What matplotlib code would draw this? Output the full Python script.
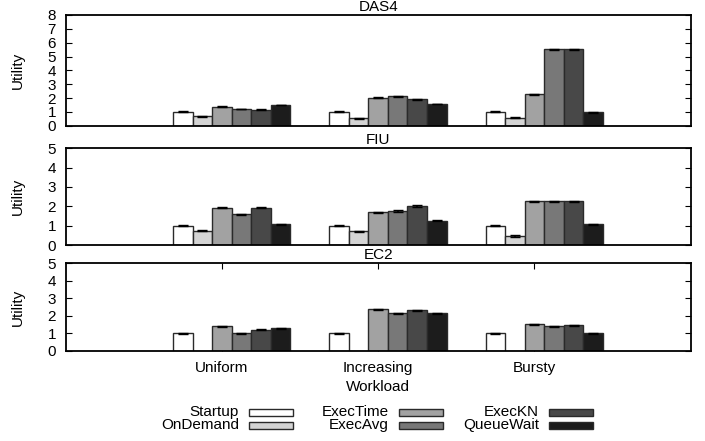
import numpy as np
import matplotlib
matplotlib.use('Agg')
import matplotlib.pyplot as plt
from matplotlib.patches import Rectangle

plt.rcParams['font.family'] = ['Liberation Sans', 'DejaVu Sans']
plt.rcParams['font.size'] = 11

workloads = ['Uniform', 'Increasing', 'Bursty']
policies = ['Startup', 'OnDemand', 'ExecTime', 'ExecAvg', 'ExecKN', 'QueueWait']
colors = ['#ffffff', '#d4d4d4', '#a2a2a2', '#787878', '#484848', '#1c1c1c']

# utility per policy, one value per workload
das4 = [
    [1.0, 1.0, 1.0],
    [0.67, 0.53, 0.58],
    [1.37, 2.02, 2.27],
    [1.20, 2.12, 5.52],
    [1.16, 1.90, 5.52],
    [1.49, 1.57, 0.96],
]
fiu = [
    [1.0, 1.0, 1.0],
    [0.74, 0.71, 0.47],
    [1.93, 1.69, 2.26],
    [1.59, 1.76, 2.26],
    [1.93, 2.02, 2.26],
    [1.07, 1.26, 1.07],
]
ec2 = [
    [1.0, 1.0, 1.0],
    [0.0, 0.0, 0.0],
    [1.42, 2.39, 1.52],
    [1.0, 2.16, 1.42],
    [1.21, 2.33, 1.46],
    [1.29, 2.14, 1.02],
]

panels = [('DAS4', das4, 8), ('FIU', fiu, 5), ('EC2', ec2, 5)]
positions = [
    [0.0932, 0.715, 0.8865, 0.251],
    [0.0932, 0.4444, 0.8865, 0.2193],
    [0.0932, 0.2041, 0.8865, 0.1989],
]

W, H = 705, 441
fig = plt.figure(figsize=(W / 100, H / 100), dpi=100)
x = np.arange(1, len(workloads) + 1)
w = 0.125

for k, (name, data, ymax) in enumerate(panels):
    ax = fig.add_axes(positions[k])
    for i, vals in enumerate(data):
        xs = x + (i - 2) * w
        ax.bar(xs, vals, width=w, color=colors[i], edgecolor='#2a2a2a',
               linewidth=1.0, zorder=2)
        shown = [v > 0 for v in vals]
        ax.errorbar(xs[shown], np.array(vals)[shown], yerr=0.03, fmt='none',
                    ecolor='black', elinewidth=1.2, capsize=3.5, zorder=3)
    ax.set_xlim(0, 4)
    ax.set_ylim(0, ymax)
    ax.set_yticks(range(0, ymax + 1))
    ax.tick_params(axis='y', direction='in', left=True, right=True, length=4, pad=7)
    ax.set_ylabel('Utility', labelpad=16)
    ax.set_title(name, fontsize=11, pad=3)
    for s in ax.spines.values():
        s.set_linewidth(1.3)
    if k == 2:
        ax.set_xticks(x)
        ax.set_xticklabels(workloads)
        ax.tick_params(axis='x', direction='in', top=True, bottom=True, length=4, pad=7)
        ax.set_xlabel('Workload', labelpad=4)
    else:
        ax.set_xticks([])

# gnuplot-style key: text right-aligned, sample box to its right
col_right = [239, 389, 539]
row_y = [412, 425]
for i, name in enumerate(policies):
    c, r = divmod(i, 2)
    xt = col_right[c]
    yc = row_y[r]
    fig.text(xt / W, 1 - yc / H, name, ha='right', va='center', fontsize=11)
    fig.patches.append(Rectangle(((xt + 10) / W, 1 - (yc + 3.5) / H), 44 / W, 7 / H,
                                 transform=fig.transFigure, facecolor=colors[i],
                                 edgecolor='#2a2a2a', linewidth=1.0))

fig.savefig('out.png', dpi=100)
